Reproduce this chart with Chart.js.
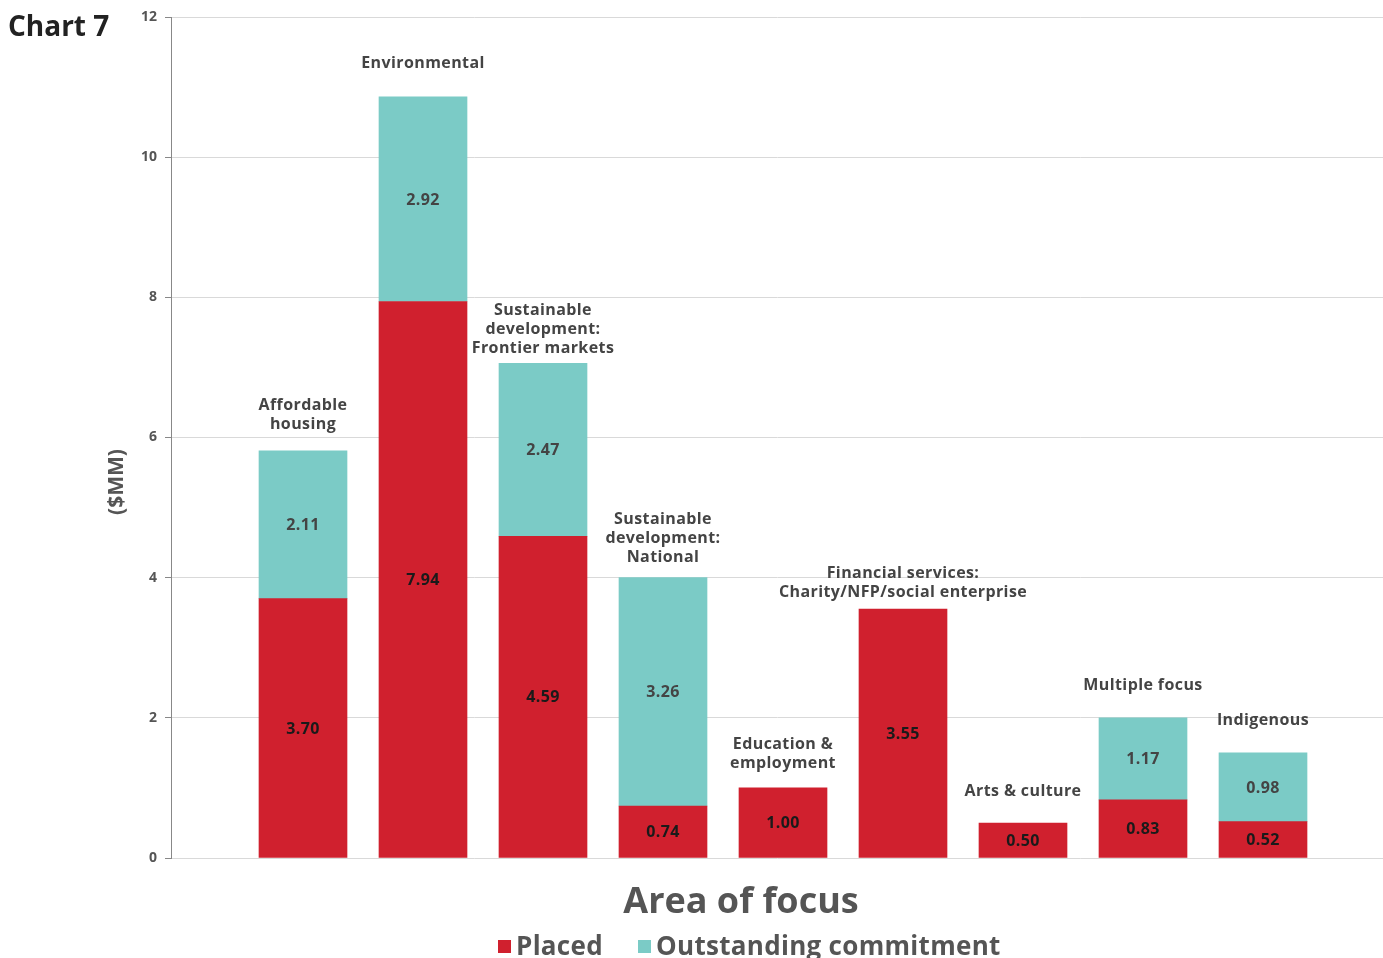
<!DOCTYPE html>
<html>
<head>
<meta charset="utf-8">
<script src="https://cdn.jsdelivr.net/npm/chart.js@4.4.0/dist/chart.umd.min.js"></script>
<style>
body { margin: 0; background: #fff; }
#wrap { width: 1383px; height: 958px; position: relative; }
</style>
</head>
<body>
<div id="wrap"><canvas id="chart"></canvas></div>
<script>
const categories = [
    ["Affordable", "housing"],
    ["Environmental"],
    ["Sustainable", "development:", "Frontier markets"],
    ["Sustainable", "development:", "National"],
    ["Education &", "employment"],
    ["Financial services:", "Charity/NFP/social enterprise"],
    ["Arts & culture"],
    ["Multiple focus"],
    ["Indigenous"]
]
const placed = [3.70, 7.94, 4.59, 0.74, 1.00, 3.55, 0.50, 0.83, 0.52]
const outstanding = [2.11, 2.92, 2.47, 3.26, null, null, null, 1.17, 0.98]
const yTicks = [0, 2, 4, 6, 8, 10, 12]
const seriesNames = ["Placed", "Outstanding commitment"]

// gap in px between the bar top and the last line of its label
const labelGap = [26, 33, 15, 20, 24, 17, 32, 32, 32]

const RED = "#D0202E"
const TEAL = "#7BCBC6"
const FONT = "'Open Sans', sans-serif"

const extras = {
    id: "extras",
    afterDatasetsDraw(chart) {
        const ctx = chart.ctx
        const x = chart.scales.x
        const y = chart.scales.y
        ctx.save()
        ctx.textAlign = "center"
        ctx.textBaseline = "middle"
        ctx.letterSpacing = "0.4px"

        // values inside segments
        chart.data.datasets.forEach((ds, di) => {
            const meta = chart.getDatasetMeta(di)
            meta.data.forEach((bar, i) => {
                const v = ds.data[i].y
                if (v == null) return
                const mid = (bar.y + bar.base) / 2
                ctx.font = "700 16px " + FONT
                ctx.fillStyle = di == 0 ? "#1a1a1a" : "#444"
                ctx.fillText(v.toFixed(2), bar.x, mid + 1)
            })
        })

        // category names above bars
        categories.forEach((lines, i) => {
            const total = placed[i] + (outstanding[i] || 0)
            const cx = x.getPixelForValue(i + 1)
            const top = y.getPixelForValue(total)
            ctx.font = "700 16px " + FONT
            ctx.fillStyle = "#444"
            lines.forEach((line, k) => {
                const ly = top - labelGap[i] - (lines.length - 1 - k) * 19
                ctx.fillText(line, cx, ly)
            })
        })
        ctx.restore()
    },
    afterDraw(chart) {
        const ctx = chart.ctx
        ctx.save()

        ctx.font = "700 28px " + FONT
        ctx.fillStyle = "#222"
        ctx.textAlign = "left"
        ctx.textBaseline = "middle"
        ctx.fillText("Chart 7", 8, 28)

        ctx.save()
        ctx.translate(117, 482)
        ctx.rotate(-Math.PI / 2)
        ctx.font = "700 21px " + FONT
        ctx.fillStyle = "#555"
        ctx.textAlign = "center"
        ctx.fillText("($MM)", 0, 0)
        ctx.restore()

        ctx.font = "700 36px " + FONT
        ctx.fillStyle = "#555"
        ctx.textAlign = "center"
        ctx.fillText("Area of focus", 741, 903)

        // legend
        ctx.font = "700 26px " + FONT
        ctx.letterSpacing = "0.3px"
        ctx.textAlign = "left"
        const items = [[RED, seriesNames[0], 498], [TEAL, seriesNames[1], 638]]
        items.forEach(([c, t, lx]) => {
            ctx.fillStyle = c
            ctx.fillRect(lx, 940, 13, 13)
            ctx.fillStyle = "#555"
            ctx.fillText(t, lx + 18, 948)
        })
        ctx.restore()
    }
}

const chart = new Chart(document.getElementById("chart"), {
    type: "bar",
    data: {
        datasets: [
            {
                label: seriesNames[0],
                data: placed.map((v, i) => ({ x: i + 1, y: v })),
                backgroundColor: RED
            },
            {
                label: seriesNames[1],
                data: outstanding.map((v, i) => ({ x: i + 1, y: v })),
                backgroundColor: TEAL
            }
        ]
    },
    options: {
        responsive: true,
        maintainAspectRatio: false,
        animation: false,
        barThickness: 88,
        layout: { padding: { top: 17, left: 0, right: 0, bottom: 0 } },
        plugins: {
            legend: { display: false },
            tooltip: { enabled: false }
        },
        scales: {
            x: {
                type: "linear",
                stacked: true,
                offset: false,
                min: -0.1,
                max: 10,
                grid: { display: false, offset: false },
                border: { display: false },
                ticks: { display: false },
                afterFit(scale) { scale.height = 100 }
            },
            y: {
                stacked: true,
                min: 0,
                max: 12,
                afterBuildTicks(scale) {
                    scale.ticks = yTicks.map(v => ({ value: v }))
                },
                grid: {
                    color: "#d9d9d9",
                    tickColor: "#888",
                    tickLength: 6
                },
                border: { color: "#888" },
                ticks: {
                    color: "#555",
                    padding: 8,
                    font: { family: FONT, size: 14, weight: "700" }
                },
                afterFit(scale) { scale.width = 171 }
            }
        }
    },
    plugins: [extras]
})
</script>
</body>
</html>
